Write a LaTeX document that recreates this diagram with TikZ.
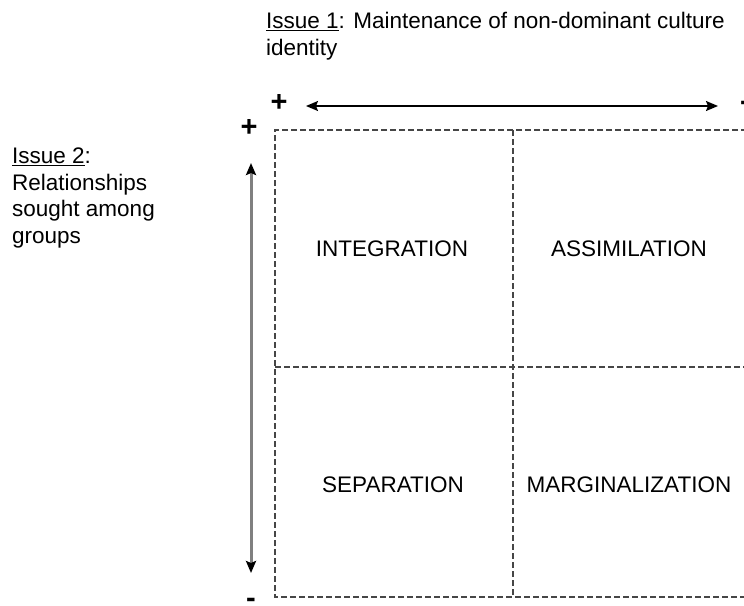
\documentclass[tikz,border=0pt]{standalone}
\usepackage{fontspec}
\setmainfont{Liberation Sans}
\usetikzlibrary{arrows.meta, positioning}
\definecolor{gridgray}{RGB}{70, 70, 70}
\definecolor{axisgray}{RGB}{128, 128, 128}

\begin{document}
\begin{tikzpicture}[
    x=1pt, y=-1pt,
    % Node styles
    quadrant/.style={
        font=\fontsize{22.5}{26}\selectfont,
        inner sep=0pt
    },
    issue/.style={
        font=\fontsize{22.5}{26.5}\selectfont,
        align=left,
        anchor=north west,
        inner sep=0pt
    },
    sign/.style={
        font=\fontsize{29}{29}\selectfont\bfseries,
        inner sep=0pt
    },
    gridline/.style={
        dash pattern=on 6pt off 3pt,
        line width=1.7pt,
        color=gridgray
    },
    axis/.style={
        {Stealth[length=12pt, width=10pt, inset=2pt, black]}-{Stealth[length=12pt, width=10pt, inset=2pt, black]},
        line width=#1
    }
]

% ============================================
% FRAME
% ============================================
\useasboundingbox (0, 0) rectangle (744, 605);

% ============================================
% GRID (Issue 1 across, Issue 2 down)
% ============================================
\coordinate (nw) at (275, 130);
\coordinate (ne) at (747, 130);
\coordinate (sw) at (275, 597);
\coordinate (se) at (747, 597);
\coordinate (ntop) at (513, 130);
\coordinate (nbot) at (513, 597);
\coordinate (wmid) at (275, 367);
\coordinate (emid) at (747, 367);

\draw[gridline] (ne) -- (nw) -- (sw) -- (se);
\draw[gridline] (ntop) -- (nbot);
\draw[gridline] (wmid) -- (emid);

% ============================================
% QUADRANT LABELS
% ============================================
\node[quadrant] (integration) at (392, 249) {INTEGRATION};
\node[quadrant] (assimilation) at (629, 249) {ASSIMILATION};
\node[quadrant] (separation) at (393, 485) {SEPARATION};
\node[quadrant] (marginalization) at (629, 485) {MARGINALIZATION};

% ============================================
% AXES WITH SIGNS
% ============================================
\node[sign] (hplus) at (279, 103) {+};
\node[sign] (hminus) at (745, 106) {-};
\node[sign] (vplus) at (249, 128) {+};
\node[sign] (vminus) at (251, 603) {-};

\coordinate (hleft) at (306, 106);
\coordinate (hright) at (718, 106);
\draw[axis=1.6pt, black] (hleft) -- (hright);

\coordinate (vtop) at (251, 163);
\coordinate (vbot) at (251, 573);
\draw[axis=3pt, axisgray] (vtop) -- (vbot);

% ============================================
% ISSUE TEXTS
% ============================================
\node[issue] (issue1) at (266, 12) {\underline{Issue 1}: Maintenance of non-dominant culture\\identity};
\node[issue] (issue2) at (12, 148) {\underline{Issue 2}:\\Relationships\\sought among\\groups};

\end{tikzpicture}
\end{document}
